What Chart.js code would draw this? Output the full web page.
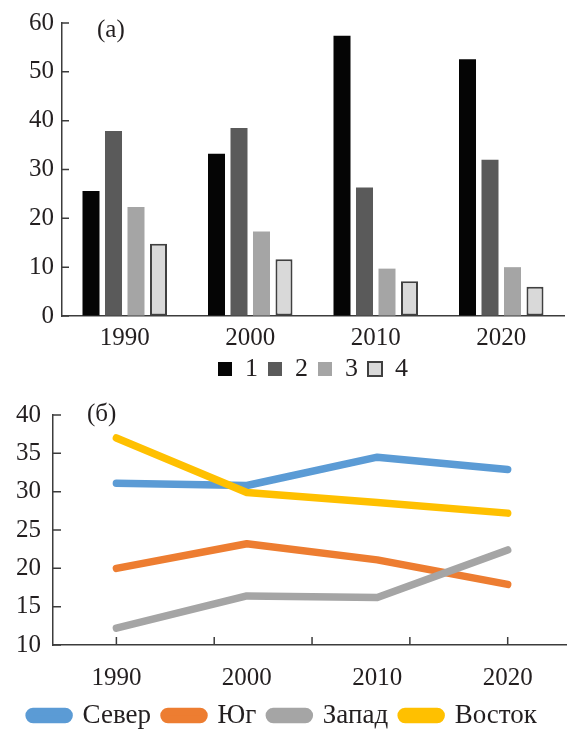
<!DOCTYPE html>
<html>
<head>
<meta charset="utf-8">
<script src="https://cdn.jsdelivr.net/npm/chart.js@4.4.0/dist/chart.umd.min.js"></script>
<style>
  body { margin: 0; background: #fff; overflow: hidden; }
  .box { position: absolute; left: 0; width: 575px; }
  .tag { position: absolute; font-family: 'Liberation Serif', serif; font-size: 25px; line-height: 1; color: #231f20; }
</style>
</head>
<body>
<div class="box" style="top:0;height:392px"><canvas id="chart-bars" width="575" height="392"></canvas></div>
<div class="box" style="top:385px;height:354px"><canvas id="chart-lines" width="575" height="354"></canvas></div>
<div class="tag" style="left:97px;top:16px">(а)</div>
<div class="tag" style="left:87px;top:400px">(б)</div>
<script>
// (а) bars
const barYears = ['1990', '2000', '2010', '2020'];
const series1 = [25.6, 33.2, 57.4, 52.6];
const series2 = [37.9, 38.5, 26.3, 32.0];
const series3 = [22.3, 17.3, 9.7, 10.0];
const series4 = [14.8, 11.6, 7.1, 6.0];
const barLabels = ['1', '2', '3', '4'];

// (б) lines
const lineYears = [1990, 2000, 2010, 2020];
const sever = [31.1, 30.8, 34.5, 32.9];
const yug = [20.0, 23.2, 21.1, 17.9];
const zapad = [12.2, 16.4, 16.2, 22.4];
const vostok = [37.0, 29.9, 28.6, 27.2];
const lineLabels = ['Север', 'Юг', 'Запад', 'Восток'];
const xTickMarks = [1990, 1997.5, 2005, 2012.5, 2020];

const axisColor = '#3c3c3c';
Chart.defaults.font.family = "'Liberation Serif', serif";
Chart.defaults.color = '#231f20';
Chart.defaults.animation = false;

// small tick marks pointing into the plot
const innerTicks = {
  id: 'innerTicks',
  afterDraw(chart, args, opts) {
    const ctx = chart.ctx;
    const y = chart.scales.y;
    const x = chart.scales.x;
    ctx.save();
    ctx.strokeStyle = axisColor;
    ctx.lineWidth = 1.5;
    ctx.beginPath();
    y.ticks.forEach(t => {
      const py = y.getPixelForValue(t.value);
      ctx.moveTo(y.right, py);
      ctx.lineTo(y.right + opts.len, py);
    });
    (opts.xMarks || []).forEach(v => {
      const px = x.getPixelForValue(v);
      ctx.moveTo(px, x.top);
      ctx.lineTo(px, x.top - opts.len);
    });
    ctx.stroke();
    ctx.restore();
  }
};

const bars = document.getElementById('chart-bars');
const lines = document.getElementById('chart-lines');

let chart = new Chart(bars, {
  type: 'bar',
  data: {
    labels: barYears,
    datasets: [
      { label: barLabels[0], data: series1, backgroundColor: '#050505', borderWidth: 0 },
      { label: barLabels[1], data: series2, backgroundColor: '#5a5a5a', borderWidth: 0 },
      { label: barLabels[2], data: series3, backgroundColor: '#a5a5a5', borderWidth: 0 },
      { label: barLabels[3], data: series4, backgroundColor: '#d9d9d9', borderColor: '#404040', borderWidth: 2, borderSkipped: false },
    ],
  },
  plugins: [innerTicks],
  options: {
    responsive: false,
    layout: { padding: { top: 21, right: 11, left: 0, bottom: 0 } },
    datasets: { bar: { categoryPercentage: 0.717, barPercentage: 0.756 } },
    plugins: {
      innerTicks: { len: 7 },
      tooltip: { enabled: false },
      legend: {
        position: 'bottom',
        fullSize: false,
        labels: { boxWidth: 14, boxHeight: 14, padding: 10, font: { size: 26 } },
      },
    },
    scales: {
      x: {
        afterFit: s => { s.height = 30; },
        grid: { display: false, drawTicks: false },
        border: { color: axisColor, width: 1.5 },
        ticks: { padding: 7, font: { size: 25 } },
      },
      y: {
        min: 0,
        max: 60,
        afterFit: s => { s.width = 62; },
        grid: { drawOnChartArea: false, drawTicks: false },
        border: { color: axisColor, width: 1.5 },
        ticks: { stepSize: 10, padding: 8, font: { size: 25 } },
      },
    },
  },
});

const lineSet = (label, data, color, order) => ({
  label: label,
  data: data.map((v, i) => ({ x: lineYears[i], y: v })),
  borderColor: color,
  backgroundColor: color,
  borderWidth: 7.5,
  borderCapStyle: 'round',
  borderJoinStyle: 'round',
  pointRadius: 0,
  tension: 0,
  order: order,
});

let chart2 = new Chart(lines, {
  type: 'line',
  data: {
    datasets: [
      lineSet(lineLabels[0], sever, '#5b9bd5', 3),
      lineSet(lineLabels[1], yug, '#ed7d31', 4),
      lineSet(lineLabels[2], zapad, '#a5a5a5', 2),
      lineSet(lineLabels[3], vostok, '#ffc000', 1),
    ],
  },
  plugins: [innerTicks],
  options: {
    responsive: false,
    layout: { padding: { top: 30, right: 9, left: 0, bottom: 0 } },
    plugins: {
      innerTicks: { len: 8, xMarks: xTickMarks },
      tooltip: { enabled: false },
      legend: {
        position: 'bottom',
        labels: {
          boxWidth: 40,
          boxHeight: 8,
          padding: 13,
          useBorderRadius: true,
          borderRadius: 4,
          font: { size: 27 },
          sort: (a, b) => a.datasetIndex - b.datasetIndex,
        },
      },
    },
    scales: {
      x: {
        type: 'linear',
        min: 1985.14,
        max: 2024.47,
        afterBuildTicks: s => { s.ticks = lineYears.map(v => ({ value: v })); },
        afterFit: s => { s.height = 44; },
        grid: { display: false, drawTicks: false },
        border: { color: axisColor, width: 1.5 },
        ticks: { padding: 18, font: { size: 25 }, callback: v => String(v) },
      },
      y: {
        min: 10,
        max: 40,
        afterFit: s => { s.width = 53; },
        grid: { drawOnChartArea: false, drawTicks: false },
        border: { color: axisColor, width: 1.5 },
        ticks: { stepSize: 5, padding: 12, font: { size: 25 } },
      },
    },
  },
});
</script>
</body>
</html>
